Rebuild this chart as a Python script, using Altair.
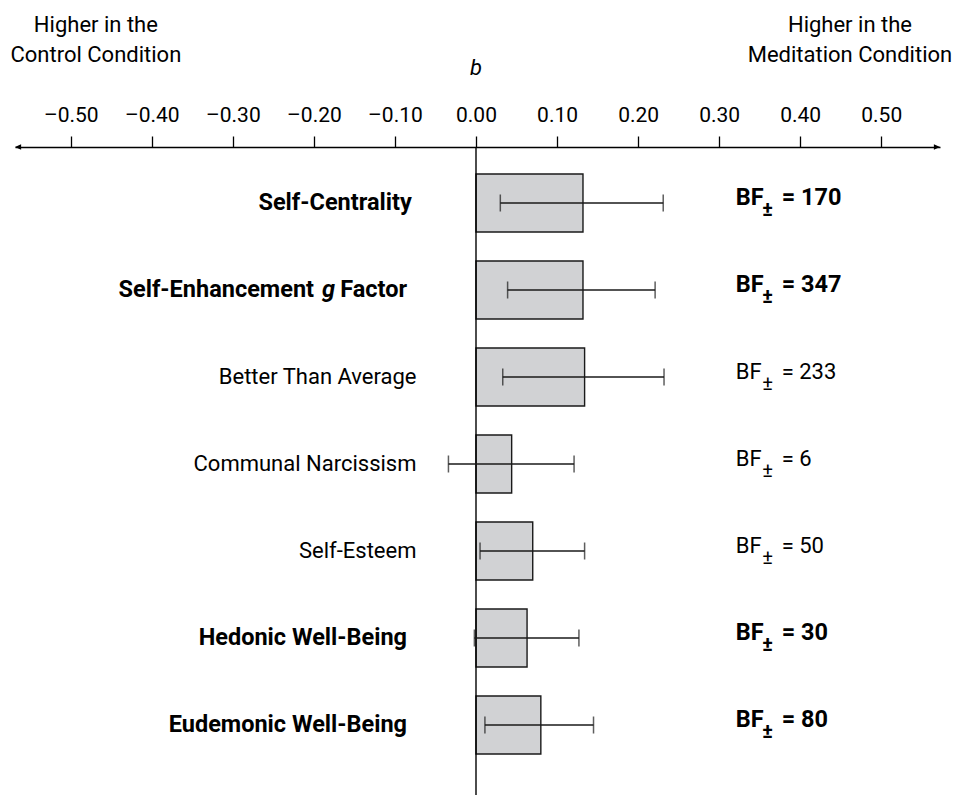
import altair as alt
import pandas as pd

# ---- data ----
keys = ["Self-Centrality", "Self-Enhancement g Factor", "Better Than Average",
        "Communal Narcissism", "Self-Esteem", "Hedonic Well-Being", "Eudemonic Well-Being"]
bold = [True, True, False, False, False, True, True]
b_values = [0.132, 0.132, 0.134, 0.044, 0.070, 0.063, 0.080]
ci_low = [0.030, 0.039, 0.033, -0.034, 0.005, -0.002, 0.011]
ci_high = [0.231, 0.221, 0.232, 0.121, 0.134, 0.127, 0.145]
bf_values = ["170", "347", "233", "6", "50", "30", "80"]
tick_values = [-0.5, -0.4, -0.3, -0.2, -0.1, 0.0, 0.1, 0.2, 0.3, 0.4, 0.5]

df = pd.DataFrame({
    "key": keys,
    "label": [k if k != "Self-Enhancement g Factor" else "" for k in keys],
    "bold": bold,
    "b": b_values,
    "lo": ci_low,
    "hi": ci_high,
    "bf": ["= " + v for v in bf_values],
})

FONT = "Roboto"
FS_TICK = 21
FS_REG = 22
FS_BOLD = 23.5
XMIN, XMAX = -0.5688, 0.5725
W, H = 925, 634

xscale = alt.Scale(domain=[XMIN, XMAX], nice=False, zero=False)
yscale = alt.Scale(domain=keys, paddingInner=0.333, paddingOuter=0.31)
Y = alt.Y("key:N", scale=yscale, sort=keys, axis=None)

base = alt.Chart(df)

x_axis = alt.Axis(
    orient="top", values=tick_values, title=None, grid=False,
    labelExpr="(datum.value < 0 ? '\u2013' : '') + format(abs(datum.value), '.2f')",
    labelFont=FONT, labelFontSize=FS_TICK, labelColor="black", labelPadding=11,
    tickSize=11, tickColor="black", tickWidth=1.3,
    domainColor="black", domainWidth=1.3,
)

bars = base.mark_bar(fill="#d1d2d4", stroke="#1a1a1a", strokeWidth=1.4).encode(
    x=alt.X("b:Q", scale=xscale, axis=x_axis),
    x2=alt.datum(0),
    y=Y,
)

err = base.mark_rule(color="#1a1a1a", strokeWidth=1.3).encode(
    x=alt.X("lo:Q", scale=xscale), x2="hi:Q", y=Y)
cap_lo = base.mark_tick(color="#1a1a1a", thickness=1.5, size=17, orient="vertical").encode(
    x=alt.X("lo:Q", scale=xscale), y=Y)
cap_hi = base.mark_tick(color="#1a1a1a", thickness=1.5, size=17, orient="vertical").encode(
    x=alt.X("hi:Q", scale=xscale), y=Y)

zero_line = alt.Chart(pd.DataFrame({"z": [0.0]})).mark_rule(color="black", strokeWidth=1.4).encode(
    x=alt.X("z:Q", scale=xscale), y=alt.value(0), y2=alt.value(H + 20))

arrow_left = alt.Chart(pd.DataFrame({"a": [XMIN]})).mark_point(
    shape="M0,0 L1,-0.45 L1,0.45 Z", filled=True, fill="black", strokeWidth=0, size=150, opacity=1
).encode(x=alt.X("a:Q", scale=xscale), y=alt.value(0))
arrow_right = alt.Chart(pd.DataFrame({"a": [XMAX]})).mark_point(
    shape="M0,0 L-1,-0.45 L-1,0.45 Z", filled=True, fill="black", strokeWidth=0, size=150, opacity=1
).encode(x=alt.X("a:Q", scale=xscale), y=alt.value(0))

X_REG = -0.0734
X_BOLD = -0.0851
X_SC = -0.0793
lab_sc = base.transform_filter("datum.key == 'Self-Centrality'").mark_text(
    font=FONT, fontSize=FS_BOLD, fontWeight="bold", align="right", baseline="middle", color="black"
).encode(x=alt.datum(X_SC, scale=xscale), y=Y, text="label:N")
lab_bold = base.transform_filter("datum.bold && datum.key != 'Self-Centrality'").mark_text(
    font=FONT, fontSize=FS_BOLD, fontWeight="bold", align="right", baseline="middle", color="black"
).encode(x=alt.datum(X_BOLD, scale=xscale), y=Y, text="label:N")
lab_reg = base.transform_filter("!datum.bold").mark_text(
    font=FONT, fontSize=FS_REG, align="right", baseline="middle", color="black"
).encode(x=alt.datum(X_REG, scale=xscale), y=Y, text="label:N")

se = base.transform_filter("datum.key == 'Self-Enhancement g Factor'")
se_factor = se.mark_text(font=FONT, fontSize=FS_BOLD, fontWeight="bold", align="right", baseline="middle",
                         color="black", text="Factor").encode(
    x=alt.datum(X_BOLD, scale=xscale), y=Y)
se_g = se.mark_text(font=FONT, fontSize=FS_BOLD, fontWeight="bold", fontStyle="italic", align="right",
                    baseline="middle", color="black", text="g", dx=-72).encode(
    x=alt.datum(X_BOLD, scale=xscale), y=Y)
se_main = se.mark_text(font=FONT, fontSize=FS_BOLD, fontWeight="bold", align="right", baseline="middle",
                       color="black", text="Self-Enhancement", dx=-93).encode(
    x=alt.datum(X_BOLD, scale=xscale), y=Y)

BF_X = 0.3204
def bf_layers(filt, weight, fs):
    sub = base.transform_filter(filt)
    t1 = sub.mark_text(font=FONT, fontSize=fs, fontWeight=weight, align="left", baseline="middle",
                       color="black", text="BF", dy=-5).encode(x=alt.datum(BF_X, scale=xscale), y=Y)
    t2 = sub.mark_text(font=FONT, fontSize=20, fontWeight=weight, align="center", baseline="middle",
                       color="black", text="\u00b1", dx=32, dy=7).encode(x=alt.datum(BF_X, scale=xscale), y=Y)
    t3 = sub.mark_text(font=FONT, fontSize=fs, fontWeight=weight, align="left", baseline="middle",
                       color="black", dx=46, dy=-5).encode(x=alt.datum(BF_X, scale=xscale), y=Y, text="bf:N")
    return [t1, t2, t3]

hdr = pd.DataFrame({"hx": [-0.469, 0.4614], "l1": ["Higher in the", "Higher in the"],
                    "l2": ["Control Condition", "Meditation Condition"]})
hdr1 = alt.Chart(hdr).mark_text(font=FONT, fontSize=FS_REG, align="center", baseline="alphabetic",
                                color="black").encode(
    x=alt.X("hx:Q", scale=xscale), y=alt.value(-115), text="l1:N")
hdr2 = alt.Chart(hdr).mark_text(font=FONT, fontSize=FS_REG, align="center", baseline="alphabetic",
                                color="black").encode(
    x=alt.X("hx:Q", scale=xscale), y=alt.value(-85), text="l2:N")
b_title = alt.Chart(pd.DataFrame({"t": [0.0]})).mark_text(
    font=FONT, fontSize=FS_REG, fontStyle="italic", align="center", baseline="alphabetic",
    color="black", text="b").encode(x=alt.X("t:Q", scale=xscale), y=alt.value(-72))

chart = alt.layer(
    bars, zero_line, err, cap_lo, cap_hi, arrow_left, arrow_right,
    lab_sc, lab_bold, lab_reg, se_factor, se_g, se_main,
    *bf_layers("datum.bold", "bold", FS_BOLD), *bf_layers("!datum.bold", "normal", FS_REG),
    hdr1, hdr2, b_title,
).properties(
    width=W, height=H,
    background="white",
    autosize=alt.AutoSizeParams(type="none"),
    padding={"left": 7, "top": 139, "right": 13, "bottom": 14},
).configure_view(strokeWidth=0, stroke="transparent")

chart.save("out.html", embed_options={"renderer": "svg", "actions": False})
